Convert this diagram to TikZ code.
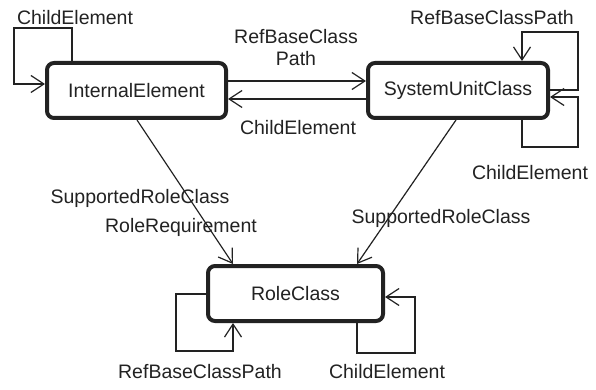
\documentclass[tikz,border=0pt]{standalone}
\usepackage{fontspec}
\setmainfont{Liberation Sans}
\usetikzlibrary{arrows.meta}
\definecolor{ink}{HTML}{222222}
\tikzset{
  classbox/.style={draw=ink, line width=4pt, rounded corners=7pt, fill=white,
    inner sep=0pt, minimum height=55pt, font=\fontsize{19.5}{22}\selectfont, text=ink},
  lbl/.style={font=\fontsize{19.5}{22}\selectfont, text=ink, inner sep=0pt, align=center},
  arr/.style={draw=ink, line width=1.2pt, -{Straight Barb[length=13pt,width=17pt,line width=1.2pt]}},
  wire/.style={draw=ink, line width=1.2pt}
}
\begin{document}
\begin{tikzpicture}[x=1pt,y=-1pt]
\useasboundingbox (0,0) rectangle (596,390);

% the three classes
\node[classbox, minimum width=179pt] (ie)  at (136.5,90.5) {InternalElement};
\node[classbox, minimum width=180pt] (suc) at (458,90.5)   {SystemUnitClass};
\node[classbox, minimum width=175pt] (rc)  at (295.5,293.5) {RoleClass};

% InternalElement self reference
\draw[arr] (ie.north -| 72,0) -- (72,28) -- (14,28) -- (14,84) -- (ie.west |- 0,84);
\node[lbl] (lieloop) at (75,18) {ChildElement};

% links between InternalElement and SystemUnitClass
\draw[arr] (ie.east |- 0,81) -- (suc.west |- 0,81);
\draw[arr] (suc.west |- 0,99) -- (ie.east |- 0,99);
\node[lbl] (lref) at (296,48) {RefBaseClass\\Path};
\node[lbl] (lchild) at (298,128) {ChildElement};

% SystemUnitClass self references
\draw[arr] (suc.east |- 0,90) -- (578,90) -- (578,32) -- (522,32) -- (suc.north -| 522,0);
\node[lbl] (lsucref) at (492,18) {RefBaseClassPath};
\draw[arr] (suc.south -| 522,0) -- (522,147) -- (578,147) -- (578,97) -- (suc.east |- 0,97);
\node[lbl] (lsucchild) at (530,173) {ChildElement};

% links to RoleClass
\draw[arr] (ie.south -| 137,0) -- (rc.north -| 233,0);
\node[lbl] (lsrc1) at (140,198) {SupportedRoleClass};
\node[lbl] (lrreq) at (181,227) {RoleRequirement};
\draw[arr] (suc.south -| 456,0) -- (rc.north -| 357,0);
\node[lbl] (lsrc2) at (441,218) {SupportedRoleClass};

% RoleClass self references
\draw[arr] (rc.west |- 0,294) -- (176,294) -- (176,351) -- (233,351) -- (rc.south -| 233,0);
\node[lbl] (lrcref) at (200,372) {RefBaseClassPath};
\draw[arr] (rc.south -| 357,0) -- (357,353) -- (415,353) -- (415,297) -- (rc.east |- 0,297);
\node[lbl] (lrcchild) at (387,372) {ChildElement};
\end{tikzpicture}
\end{document}
